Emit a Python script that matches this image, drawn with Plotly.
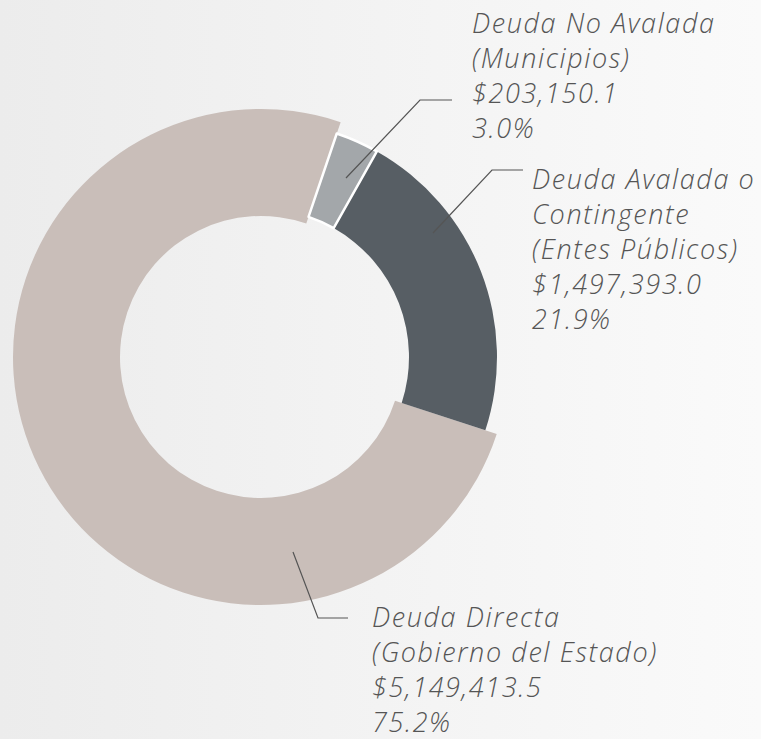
import plotly.graph_objects as go

# ---- data ----
categories = ["Deuda Directa (Gobierno del Estado)",
              "Deuda Avalada o Contingente (Entes Públicos)",
              "Deuda No Avalada (Municipios)"]
values = [5149413.5, 1497393.0, 203150.1]
percents = ["75.2%", "21.9%", "3.0%"]
label_lines = [["Deuda Directa", "(Gobierno del Estado)"],
               ["Deuda Avalada o", "Contingente", "(Entes Públicos)"],
               ["Deuda No Avalada", "(Municipios)"]]
colors = ["#c9beb9", "#575e64", "#a3a7aa"]

W, H = 761, 739
TRANSP = "rgba(0,0,0,0)"

def dom_x(cx, r):
    return [(cx - r) / W, (cx + r) / W]

def dom_y(cy, r):
    yb = H - cy
    return [(yb - r) / H, (yb + r) / H]

fig = go.Figure()

# background gradient
fig.add_trace(go.Scatter(
    x=[0, W, W, 0, 0], y=[0, 0, H, H, 0], mode="lines", fill="toself",
    line=dict(width=0),
    fillgradient=dict(type="horizontal",
                      colorscale=[[0, "#ececec"], [1, "#fafafa"]]),
    hoverinfo="skip", showlegend=False))

CX, CY = 261, 357
ROT = 108.1  # first slice starts here (clockwise from 12 o'clock)

# large ring: main slice
fig.add_trace(go.Pie(
    labels=categories, values=values, sort=False, direction="counterclockwise",
    rotation=ROT, hole=141 / 248, textinfo="none", hoverinfo="skip",
    marker=dict(colors=[colors[0], TRANSP, TRANSP], line=dict(width=0)),
    domain=dict(x=dom_x(CX, 248), y=dom_y(CY, 248)), showlegend=False))

# smaller ring: other slices
fig.add_trace(go.Pie(
    labels=categories, values=values, sort=False, direction="counterclockwise",
    rotation=ROT, hole=148 / 236, textinfo="none", hoverinfo="skip",
    marker=dict(colors=[TRANSP, colors[1], colors[2]],
                line=dict(color=["rgba(0,0,0,0)", "rgba(0,0,0,0)", "#ffffff"],
                          width=[0, 0, 2.5])),
    domain=dict(x=dom_x(CX, 236), y=dom_y(CY, 236)), showlegend=False))

def money(v):
    return "${:,.1f}".format(v)

# label placement (pixels): left x, top y
label_pos = [(371, 597), (531, 159), (471, 3)]
leaders = [[(293, 552), (318, 618), (348, 618)],
           [(433, 233), (492, 170), (523, 170)],
           [(346, 178), (420, 100), (452, 100)]]

annotations = []
shapes = []
for i in range(3):
    lines = label_lines[i] + [money(values[i]), percents[i]]
    txt = "<br>".join('<span style="letter-spacing:1.6px">' + s + "</span>"
                      for s in lines)
    lx, ly = label_pos[i]
    annotations.append(dict(
        x=lx / W, y=1 - ly / H, xref="paper", yref="paper",
        xanchor="left", yanchor="top", borderpad=0,
        align="left", showarrow=False, text=txt,
        font=dict(family="Open Sans", size=27, color="#555555",
                  style="italic", weight=300)))
    pts = leaders[i]
    path = "M {} {} L {} {} L {} {}".format(*pts[0], *pts[1], *pts[2])
    shapes.append(dict(type="path", path=path, xref="x", yref="y",
                       line=dict(color="#555555", width=1.2)))

fig.update_layout(
    width=W, height=H, margin=dict(l=0, r=0, t=0, b=0),
    paper_bgcolor="#f3f3f3", plot_bgcolor="rgba(0,0,0,0)",
    xaxis=dict(range=[0, W], visible=False, fixedrange=True),
    yaxis=dict(range=[H, 0], visible=False, fixedrange=True),
    annotations=annotations, shapes=shapes, showlegend=False)

fig.write_html("out.html", config={"displayModeBar": False},
               post_script="document.body.style.margin='0px';")
